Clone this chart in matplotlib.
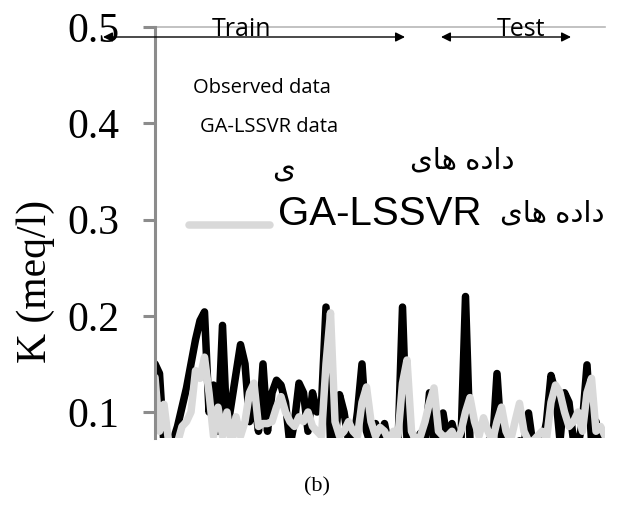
import matplotlib
matplotlib.use("Agg")
import matplotlib.pyplot as plt
import numpy as np

# ---- data ----
observed = [0.150, 0.140, 0.065, 0.065, 0.070, 0.085, 0.105, 0.125, 0.150, 0.175,
            0.195, 0.204, 0.100, 0.128, 0.080, 0.190, 0.080, 0.110, 0.140, 0.170,
            0.150, 0.090, 0.115, 0.080, 0.150, 0.080, 0.120, 0.133, 0.128, 0.110,
            0.065, 0.090, 0.130, 0.120, 0.080, 0.120, 0.100, 0.108, 0.209, 0.070,
            0.070, 0.118, 0.100, 0.070, 0.065, 0.100, 0.150, 0.080, 0.065, 0.088,
            0.070, 0.088, 0.065, 0.078, 0.065, 0.209, 0.070, 0.065, 0.070, 0.078,
            0.065, 0.120, 0.070, 0.065, 0.099, 0.070, 0.088, 0.070, 0.070, 0.220,
            0.070, 0.065, 0.070, 0.065, 0.070, 0.065, 0.140, 0.070, 0.065, 0.070,
            0.065, 0.070, 0.065, 0.099, 0.065, 0.070, 0.065, 0.090, 0.138, 0.120,
            0.070, 0.120, 0.110, 0.070, 0.065, 0.090, 0.149, 0.070, 0.090, 0.065,
            0.065]
predicted = [0.136, 0.080, 0.108, 0.070, 0.065, 0.068, 0.085, 0.090, 0.100, 0.143,
             0.135, 0.157, 0.120, 0.075, 0.105, 0.075, 0.100, 0.065, 0.095, 0.075,
             0.090, 0.120, 0.130, 0.085, 0.088, 0.088, 0.090, 0.105, 0.116, 0.100,
             0.090, 0.085, 0.095, 0.090, 0.100, 0.085, 0.080, 0.075, 0.150, 0.203,
             0.090, 0.075, 0.080, 0.090, 0.080, 0.075, 0.110, 0.126, 0.090, 0.075,
             0.084, 0.080, 0.070, 0.080, 0.075, 0.130, 0.154, 0.080, 0.070, 0.075,
             0.090, 0.110, 0.125, 0.080, 0.075, 0.075, 0.080, 0.068, 0.080, 0.100,
             0.115, 0.090, 0.075, 0.094, 0.080, 0.070, 0.090, 0.105, 0.080, 0.070,
             0.090, 0.109, 0.080, 0.070, 0.070, 0.075, 0.080, 0.072, 0.110, 0.128,
             0.120, 0.100, 0.085, 0.090, 0.100, 0.080, 0.120, 0.135, 0.080, 0.085,
             0.075]
yticks = [0.1, 0.2, 0.3, 0.4, 0.5]
ytick_labels = ["0.1", "0.2", "0.3", "0.4", "0.5"]
ylabel = "K (meq/l)"
caption = "(b)"

W, H = 617, 505
fig = plt.figure(figsize=(W / 100, H / 100), dpi=100)


def fx(x):
    return x / W


def fy(y):
    return 1 - y / H


ax = fig.add_axes([fx(155), fy(438), fx(605) - fx(155), fy(27) - fy(438)])
x = np.arange(len(observed))
ax.plot(x, observed, color="black", lw=5.4, solid_joinstyle="round",
        solid_capstyle="round")
ax.plot(x, predicted, color="#d9d9d9", lw=5.4, solid_joinstyle="round",
        solid_capstyle="round")
ax.set_xlim(0, len(observed) - 1)
ax.set_ylim(0.073, 0.5)
ax.axhline(0.5, color="#b8b8b8", lw=1.2, clip_on=False, zorder=0)

for s in ["top", "right", "bottom"]:
    ax.spines[s].set_visible(False)
ax.spines["left"].set_color("#8c8c8c")
ax.spines["left"].set_linewidth(2.2)
ax.set_xticks([])
ax.set_yticks(yticks)
ax.set_yticklabels(ytick_labels, family="Liberation Serif", fontsize=30)
ax.tick_params(axis="y", direction="out", length=8.5, width=2.2,
               color="#8c8c8c", pad=17)
fig.text(fx(36), fy(281), ylabel, family="Liberation Serif", fontsize=30,
         rotation=90, ha="center", va="center")

sans = ["Open Sans", "DejaVu Sans"]
ar = ["Liberation Sans", "DejaVu Sans"]

# Train / Test arrows
arrow_kw = dict(arrowstyle="<|-|>", color="black", lw=1.0,
                mutation_scale=14, shrinkA=0, shrinkB=0)
ax.annotate("", xy=(fx(405), fy(37)), xytext=(fx(103), fy(37)),
            xycoords="figure fraction", textcoords="figure fraction",
            arrowprops=arrow_kw, annotation_clip=False)
ax.annotate("", xy=(fx(571), fy(37)), xytext=(fx(441), fy(37)),
            xycoords="figure fraction", textcoords="figure fraction",
            arrowprops=arrow_kw, annotation_clip=False)
fig.text(fx(242), fy(30), "Train", family=sans, fontsize=18,
         ha="center", va="center")
fig.text(fx(521), fy(30), "Test", family=sans, fontsize=18,
         ha="center", va="center")

fig.text(fx(193), fy(88), "Observed data", family=sans, fontsize=14.5,
         ha="left", va="center")
fig.text(fx(200), fy(127), "GA-LSSVR data", family=sans, fontsize=14.5,
         ha="left", va="center")

# Persian labels (presentation forms in visual order)
fa_dadehay = "\uFEEF\uFE8E\uFEEB \uFEE9\uFEA9\uFE8D\uFEA9"
fig.text(fx(515), fy(160), fa_dadehay, family=ar, fontsize=21,
         ha="right", va="center")
fig.text(fx(283), fy(170), "\uFEEF", family=ar, fontsize=21,
         ha="center", va="center")
fig.text(fx(605), fy(214), fa_dadehay, family=ar, fontsize=21,
         ha="right", va="center")
fig.text(fx(278), fy(214), "GA-LSSVR", family=ar, fontsize=29,
         ha="left", va="center")
fig.add_artist(plt.Line2D([fx(189), fx(270)], [fy(225), fy(225)],
                          color="#d9d9d9", lw=5.4, solid_capstyle="round"))

fig.text(fx(317), fy(487), caption, family="Liberation Serif", fontsize=16,
         ha="center", va="center")

fig.savefig("out.png", dpi=100)
